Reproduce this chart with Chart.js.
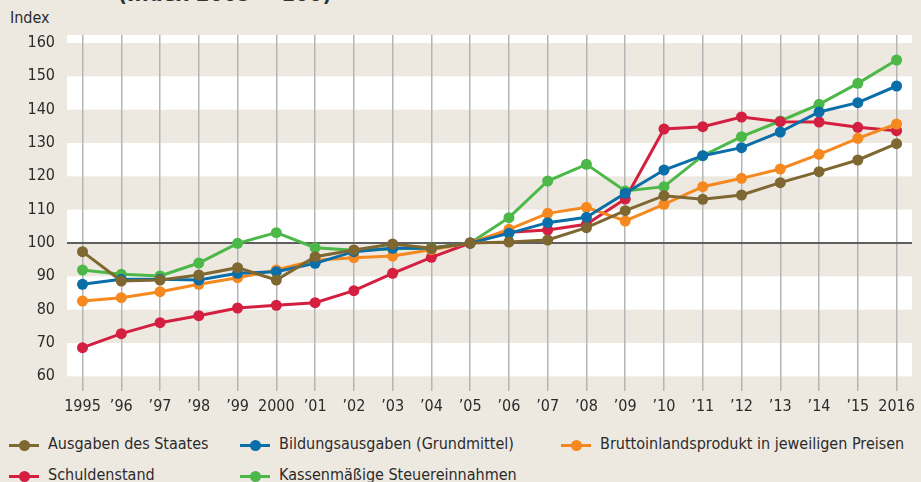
<!DOCTYPE html>
<html>
<head>
<meta charset="utf-8">
<script src="https://cdn.jsdelivr.net/npm/chart.js@4.4.1/dist/chart.umd.min.js"></script>
<style>
  html, body { margin:0; padding:0; background:#ede9e1; }
  body { width:921px; height:482px; position:relative; overflow:hidden;
         font-family:'Liberation Sans Narrow','DejaVu Sans Condensed',sans-serif; color:#2b2b2b; }
  #wrap { position:absolute; left:0; top:0; width:921px; height:420px; }
  .title { position:absolute; left:118px; top:-17px; font-weight:bold; font-size:22px; line-height:22px; color:#333; white-space:nowrap; }
  .unit { position:absolute; left:10px; top:8px; font-size:16px; line-height:20px; }
  .leg { position:absolute; font-size:16px; line-height:20px; white-space:nowrap; }
  .mk { position:absolute; width:30px; height:3px; }
  .dot { position:absolute; width:11px; height:11px; border-radius:50%; }
</style>
</head>
<body>
<div class="title">(Index 2005 = 100)</div>
<div class="unit">Index</div>
<div id="wrap"><canvas id="c" width="921" height="420"></canvas></div>
<div id="legend"></div>
<script>
const years = [1995,1996,1997,1998,1999,2000,2001,2002,2003,2004,2005,2006,2007,2008,2009,2010,2011,2012,2013,2014,2015,2016];
const xTickLabels = ['1995','\u201996','\u201997','\u201998','\u201999','2000','\u201901','\u201902','\u201903','\u201904','\u201905','\u201906','\u201907','\u201908','\u201909','\u201910','\u201911','\u201912','\u201913','\u201914','\u201915','2016'];
const yTickValues = [60,70,80,90,100,110,120,130,140,150,160];

const seriesNames = ['Ausgaben des Staates','Bildungsausgaben (Grundmittel)','Bruttoinlandsprodukt in jeweiligen Preisen','Schuldenstand','Kassenm\u00e4\u00dfige Steuereinnahmen'];
const ausgaben = [97.4,88.6,88.9,90.4,92.6,88.9,95.9,97.9,99.7,98.4,100,100.3,100.9,104.6,109.7,114.2,113.1,114.4,118.1,121.4,124.9,129.8];
const bildung  = [87.6,89.1,89.1,88.9,90.9,91.4,93.9,97.4,98.4,98.4,100,102.9,106.1,107.7,114.9,121.9,126.2,128.6,133.3,139.3,142.1,147.1];
const bip      = [82.6,83.6,85.4,87.6,89.6,91.9,94.8,95.6,96.1,98.0,100,104.1,108.9,110.7,106.6,111.6,116.9,119.4,122.2,126.6,131.4,135.7];
const schulden = [68.6,72.8,76.1,78.2,80.5,81.3,82.1,85.7,90.9,95.7,100,103.2,103.9,105.6,113.2,134.2,134.9,137.8,136.4,136.3,134.7,133.7];
const steuer   = [91.9,90.6,90.1,94.0,99.9,103.1,98.6,97.8,98.3,98.5,100,107.6,118.6,123.6,115.6,116.9,126.2,131.9,136.6,141.6,147.9,154.9];
const seriesValues = [ausgaben, bildung, bip, schulden, steuer];
const seriesColors = ['#7e6731','#0a6ea9','#f5891f','#d41f40','#4cb848'];

const bandRanges = [[70,80],[90,100],[110,120],[130,140],[150,160]];
const FONT = "'Liberation Sans Narrow','DejaVu Sans Condensed',sans-serif";

const bandsPlugin = {
  id:'bands',
  beforeDraw(chart){
    const {ctx, chartArea:a, scales:{y}} = chart;
    ctx.save();
    ctx.fillStyle = '#ffffff';
    ctx.fillRect(a.left, a.top, a.right - a.left, y.getPixelForValue(60) - a.top);
    ctx.fillStyle = '#ede9e1';
    bandRanges.forEach(([lo,hi])=>{
      const t = y.getPixelForValue(hi), b = y.getPixelForValue(lo);
      ctx.fillRect(a.left, t, a.right - a.left, b - t);
    });
    ctx.restore();
  }
};

const datasets = seriesNames.map((n,i)=>({
  label:n,
  data: years.map((yr,j)=>({x:yr, y:seriesValues[i][j]})),
  borderColor: seriesColors[i],
  backgroundColor: seriesColors[i],
  borderWidth: 3,
  pointRadius: 5.5,
  pointHoverRadius: 5.5,
  pointBorderWidth: 0,
  tension: 0
}));

new Chart(document.getElementById('c'), {
  type:'line',
  data:{ datasets },
  plugins:[bandsPlugin],
  options:{
    responsive:false,
    animation:false,
    devicePixelRatio:1,
    layout:{ padding:{ top:35, right:2, left:0, bottom:0 } },
    plugins:{ legend:{display:false}, tooltip:{enabled:false} },
    scales:{
      x:{
        type:'linear', min:1994.6, max:2016.4,
        afterBuildTicks(s){ s.ticks = years.map(v=>({value:v})); },
        afterFit(s){ s.height = 29; },
        ticks:{ callback:(v)=>{ const k = years.indexOf(v); return k>=0 ? xTickLabels[k] : ''; },
                font:{family:FONT, size:16}, color:'#2b2b2b', padding:6, maxRotation:0, autoSkip:false },
        grid:{ color:'#b5b5b5', lineWidth:1.5, drawTicks:false },
        border:{ display:false }
      },
      y:{
        min:55.6, max:162.4,
        afterBuildTicks(s){ s.ticks = yTickValues.map(v=>({value:v})); },
        afterFit(s){ s.width = 67; },
        ticks:{ font:{family:FONT, size:16}, color:'#2b2b2b', padding:12 },
        grid:{ color:(c)=> c.tick && c.tick.value===100 ? '#5f5f5f' : 'rgba(0,0,0,0)', lineWidth:2, drawTicks:false },
        border:{ display:false }
      }
    }
  }
});

// legend
const legendPos = [[9,445],[240,445],[561,445],[9,476],[240,476]];
const lg = document.getElementById('legend');
seriesNames.forEach((n,i)=>{
  const [x,yc] = legendPos[i];
  const m = document.createElement('div');
  m.className='mk'; m.style.left=x+'px'; m.style.top=(yc-1.5)+'px'; m.style.background=seriesColors[i];
  lg.appendChild(m);
  const d = document.createElement('div');
  d.className='dot'; d.style.left=(x+15-5.5)+'px'; d.style.top=(yc-5.5)+'px'; d.style.background=seriesColors[i];
  lg.appendChild(d);
  const t = document.createElement('div');
  t.className='leg'; t.textContent=n; t.style.left=(x+39)+'px'; t.style.top=(yc-11)+'px';
  lg.appendChild(t);
});
</script>
</body>
</html>
